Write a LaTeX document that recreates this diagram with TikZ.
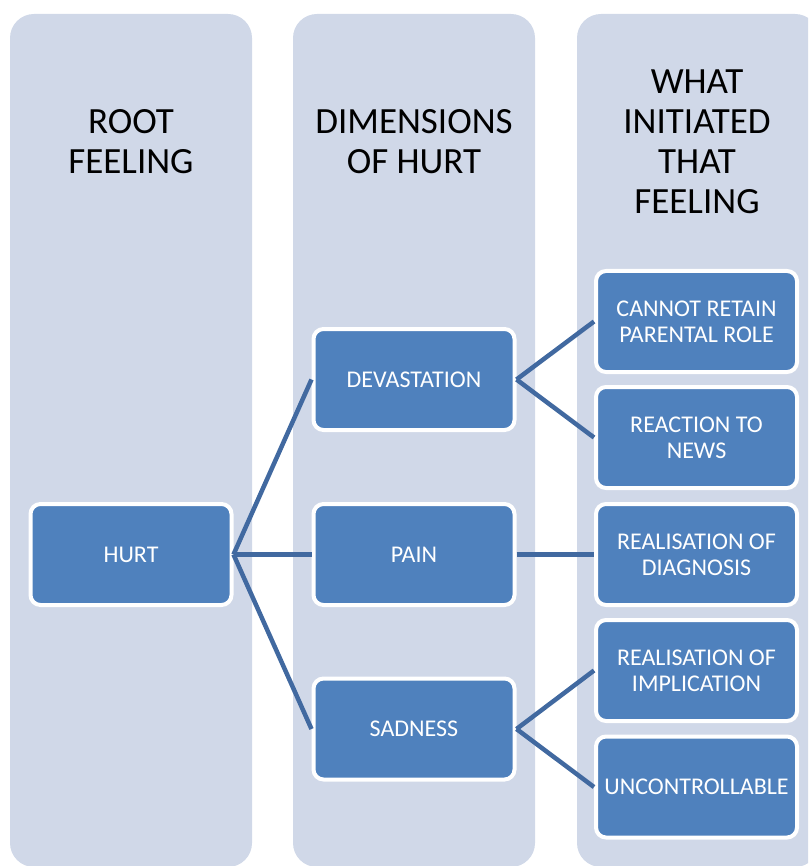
\documentclass[tikz,border=0pt]{standalone}
\usepackage{fontspec}
\setmainfont{Carlito}
\definecolor{colbg}{RGB}{208,216,232}
\definecolor{boxfill}{RGB}{79,129,189}
\definecolor{linkc}{RGB}{65,105,160}
\begin{document}
\begin{tikzpicture}[x=1pt,y=-1pt,
  colbox/.style={fill=colbg, rounded corners=24pt},
  header/.style={font=\fontsize{37}{40}\selectfont, align=center, text=black, inner sep=0pt},
  item/.style={draw=white, line width=4pt, fill=boxfill, rounded corners=10pt,
    minimum width=201pt, minimum height=101pt, inner sep=0pt, text=white,
    align=center, font=\fontsize{24}{26}\selectfont},
  link/.style={draw=linkc, line width=4.5pt}]
\useasboundingbox (0,0) rectangle (808,866);
\clip (0,0) rectangle (808,866);
% column backgrounds
\fill[colbox] (10,14) rectangle (252,867);
\fill[colbox] (293,14) rectangle (535,867);
\fill[colbox] (577,14) rectangle (819,867);
% headers
\node[header] (h1) at (131,142) {ROOT\\FEELING};
\node[header] (h2) at (414,142) {DIMENSIONS\\OF HURT};
\node[header] (h3) at (697,142) {WHAT\\INITIATED\\THAT\\FEELING};
% boxes
\node[item] (hurt) at (131,554.5) {HURT};
\node[item] (dev) at (414,379.5) {DEVASTATION};
\node[item] (pain) at (414,554.5) {PAIN};
\node[item] (sad) at (414,729) {SADNESS};
\node[item] (r1) at (696.5,321.5) {CANNOT RETAIN\\PARENTAL ROLE};
\node[item] (r2) at (696.5,437.5) {REACTION TO\\NEWS};
\node[item] (r3) at (696.5,554.5) {REALISATION OF\\DIAGNOSIS};
\node[item] (r4) at (696.5,670.5) {REALISATION OF\\IMPLICATION};
\node[item] (r5) at (696.5,787) {UNCONTROLLABLE};
% connectors
\draw[link] (hurt.east) -- (dev.west);
\draw[link] (hurt.east) -- (pain.west);
\draw[link] (hurt.east) -- (sad.west);
\draw[link] (dev.east) -- (r1.west);
\draw[link] (dev.east) -- (r2.west);
\draw[link] (pain.east) -- (r3.west);
\draw[link] (sad.east) -- (r4.west);
\draw[link] (sad.east) -- (r5.west);
\end{tikzpicture}
\end{document}
